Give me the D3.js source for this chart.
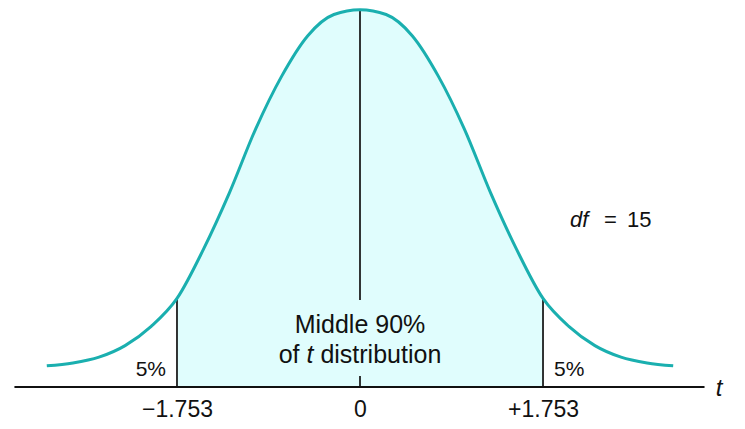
<!DOCTYPE html>
<html>
<head>
<meta charset="utf-8">
<script src="https://cdn.jsdelivr.net/npm/d3@7"></script>
<style>
  body { margin: 0; background: #fff; }
  text { font-family: "Liberation Sans", Arial, sans-serif; fill: #111; }
</style>
</head>
<body>
<div id="chart"></div>
<script>
// t values along the curve
const tValues = [-3, -2.75, -2.5, -2.25, -2, -1.753, -1.5, -1.25, -1, -0.75, -0.5, -0.25, 0,
  0.25, 0.5, 0.75, 1, 1.25, 1.5, 1.753, 2, 2.25, 2.5, 2.75, 3];
// curve heights (density) at those t values
const densityValues = [0.022, 0.025, 0.031, 0.043, 0.063, 0.092, 0.143, 0.202, 0.268, 0.323, 0.365, 0.387, 0.392,
  0.387, 0.365, 0.323, 0.268, 0.202, 0.143, 0.092, 0.063, 0.043, 0.031, 0.025, 0.022];
const criticalT = 1.753;
const tickValues = [-1.753, 0, 1.753];
const tickLabels = ["\u22121.753", "0", "+1.753"];
const tailLabel = "5%";
const dfValue = 15;

const width = 745;
const height = 429;

const points = tValues.map((t, i) => ({ t: t, d: densityValues[i] }));

// scales
const x = d3.scaleLinear().domain([-3, 3]).range([46.8, 673.2]);
const y = d3.scaleLinear().domain([0, 0.4]).range([387, 2]);

const svg = d3.select("#chart")
  .append("svg")
  .attr("width", width)
  .attr("height", height);

// shaded middle 90%
const middle = points.filter((p) => Math.abs(p.t) <= criticalT);
const area = d3.area()
  .x((p) => x(p.t))
  .y0(y(0))
  .y1((p) => y(p.d))
  .curve(d3.curveMonotoneX);

svg.append("path")
  .datum(middle)
  .attr("d", area)
  .attr("fill", "#e0fdfd");

// vertical lines at the critical values
const critD = points.find((p) => p.t === criticalT).d;
svg.selectAll(".crit")
  .data([-criticalT, criticalT])
  .enter()
  .append("line")
  .attr("class", "crit")
  .attr("x1", (t) => x(t))
  .attr("x2", (t) => x(t))
  .attr("y1", y(critD))
  .attr("y2", y(0))
  .attr("stroke", "#111")
  .attr("stroke-width", 1.7);

// center line, broken for the label
const peak = d3.max(densityValues);
svg.append("line")
  .attr("x1", x(0)).attr("x2", x(0))
  .attr("y1", y(peak)).attr("y2", 300)
  .attr("stroke", "#111").attr("stroke-width", 1.7);
svg.append("line")
  .attr("x1", x(0)).attr("x2", x(0))
  .attr("y1", 376).attr("y2", y(0))
  .attr("stroke", "#111").attr("stroke-width", 1.7);

// the curve
const line = d3.line()
  .x((p) => x(p.t))
  .y((p) => y(p.d))
  .curve(d3.curveMonotoneX);

svg.append("path")
  .datum(points)
  .attr("d", line)
  .attr("fill", "none")
  .attr("stroke", "#1aafaf")
  .attr("stroke-width", 3);

// baseline
svg.append("line")
  .attr("x1", x(-3.31))
  .attr("x2", x(3.3))
  .attr("y1", y(0))
  .attr("y2", y(0))
  .attr("stroke", "#111")
  .attr("stroke-width", 2);

// tick labels
const axis = d3.axisBottom(x)
  .tickValues(tickValues)
  .tickSize(0)
  .tickPadding(14)
  .tickFormat((d, i) => tickLabels[i]);

const axisG = svg.append("g")
  .attr("transform", `translate(0,${y(0)})`)
  .call(axis);
axisG.select(".domain").remove();
axisG.selectAll("text")
  .style("font-family", "'Liberation Sans', Arial, sans-serif")
  .style("font-size", "23px")
  .attr("fill", "#111");

// t axis label
svg.append("text")
  .attr("x", 719)
  .attr("y", 396)
  .attr("text-anchor", "middle")
  .style("font-size", "24px")
  .style("font-style", "italic")
  .text("t");

// tail labels
svg.selectAll(".tail")
  .data([-criticalT, criticalT])
  .enter()
  .append("text")
  .attr("class", "tail")
  .attr("x", (t) => (t < 0 ? x(t) - 11 : x(t) + 11))
  .attr("y", 376)
  .attr("text-anchor", (t) => (t < 0 ? "end" : "start"))
  .style("font-size", "21px")
  .text(tailLabel);

// middle label
svg.append("text")
  .attr("x", x(0))
  .attr("y", 333)
  .attr("text-anchor", "middle")
  .style("font-size", "25px")
  .text("Middle 90%");

const l2 = svg.append("text")
  .attr("x", x(0))
  .attr("y", 363)
  .attr("text-anchor", "middle")
  .style("font-size", "25px");
l2.append("tspan").text("of ");
l2.append("tspan").style("font-style", "italic").text("t");
l2.append("tspan").text(" distribution");

// df label
const dfText = svg.append("text")
  .attr("x", 570)
  .attr("y", 227)
  .style("font-size", "22px");
dfText.append("tspan").style("font-style", "italic").text("df");
dfText.append("tspan").attr("x", 604).text("=");
dfText.append("tspan").attr("x", 627).text(dfValue);
</script>
</body>
</html>
